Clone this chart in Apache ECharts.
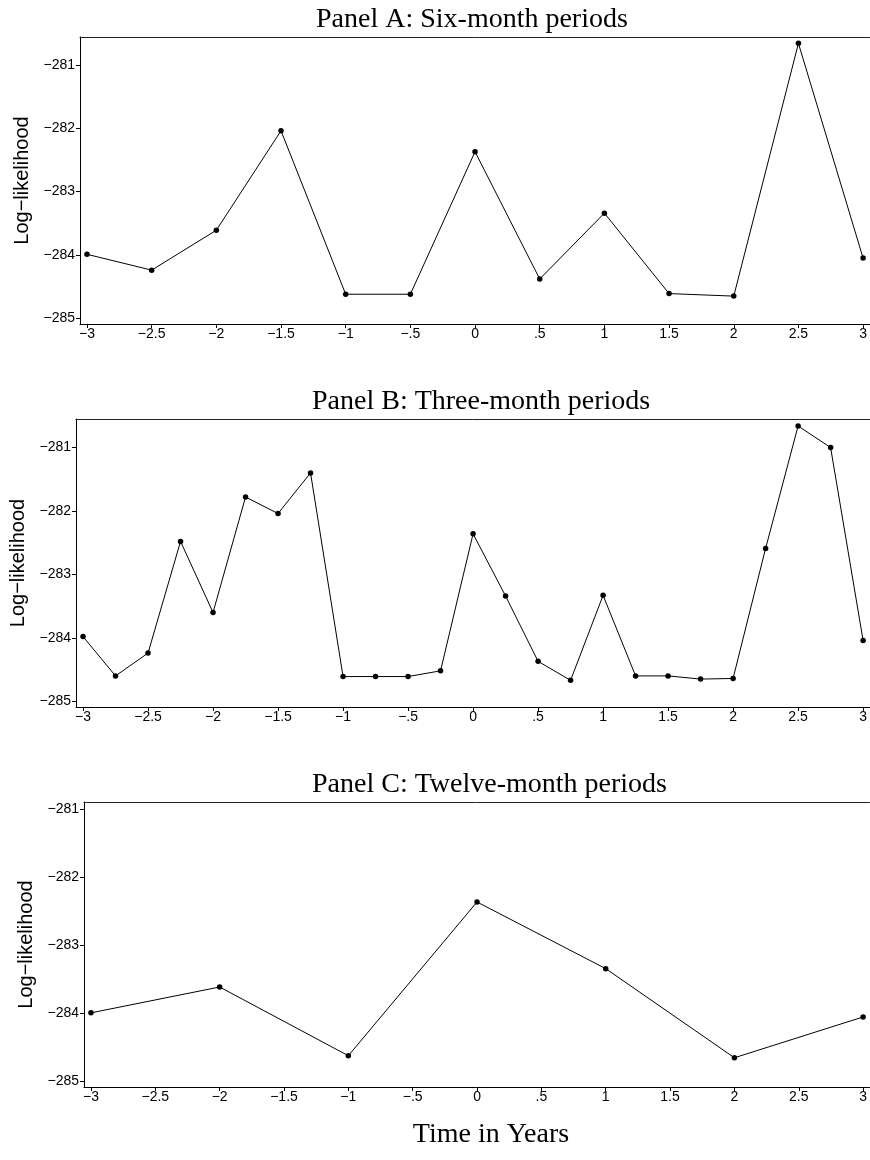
<!DOCTYPE html>
<html><head><meta charset="utf-8">
<script src="https://cdn.jsdelivr.net/npm/echarts@6/dist/echarts.min.js"></script>
<style>html,body{margin:0;padding:0;background:#fff}#c{width:870px;height:1160px}</style>
</head><body><div id="c"></div>
<script>
const panelTitles = ['Panel A: Six-month periods', 'Panel B: Three-month periods', 'Panel C: Twelve-month periods'];
const yAxisTitle = 'Log\u2212likelihood';
const xAxisTitle = 'Time in Years';

const xA = [-3, -2.5, -2, -1.5, -1, -0.5, 0, 0.5, 1, 1.5, 2, 2.5, 3];
const yA = [-283.99, -284.24, -283.61, -282.04, -284.62, -284.62, -282.37, -284.38, -283.34, -284.61, -284.65, -280.66, -284.05];

const xB = [-3, -2.75, -2.5, -2.25, -2, -1.75, -1.5, -1.25, -1, -0.75, -0.5, -0.25, 0, 0.25, 0.5, 0.75, 1, 1.25, 1.5, 1.75, 2, 2.25, 2.5, 2.75, 3];
const yB = [-283.98, -284.60, -284.24, -282.48, -283.60, -281.78, -282.04, -281.40, -284.61, -284.61, -284.61, -284.52, -282.36, -283.34, -284.37, -284.67, -283.33, -284.60, -284.60, -284.65, -284.64, -282.59, -280.66, -281.00, -284.04];

const xC = [-3, -2, -1, 0, 1, 2, 3];
const yC = [-284.00, -283.62, -284.63, -282.37, -283.35, -284.66, -284.06];

const xTicks = [-3, -2.5, -2, -1.5, -1, -0.5, 0, 0.5, 1, 1.5, 2, 2.5, 3];
const yTicks = [-285, -284, -283, -282, -281];

function fmtX(v) {
  if (v === 0) return '0';
  let s = String(Math.abs(v));
  if (s.startsWith('0.')) s = s.slice(1);
  return (v < 0 ? '\u2212' : '') + s;
}
function fmtY(v) { return (v < 0 ? '\u2212' : '') + Math.abs(v); }

const panels = [
  { xs: xA, ys: yA, grid: { left: 80, top: 37, right: 0, height: 287 }, ymax: -280.56, title: { left: 316, top: 6 } },
  { xs: xB, ys: yB, grid: { left: 76, top: 419, right: 0, height: 288 }, ymax: -280.55, title: { left: 312, top: 388 } },
  { xs: xC, ys: yC, grid: { left: 84, top: 802, right: 0, height: 285 }, ymax: -280.90, title: { left: 312, top: 771 } }
];
const YMIN = -285.09, XMIN = -3.054, XMAX = 3.05;

const sansLabel = { color: '#000', fontFamily: 'Liberation Sans', fontSize: 14 };
const lineStyle = { color: '#000', width: 1 };

const option = {
  animation: false,
  backgroundColor: '#fff',
  title: panels.map((p, i) => ({
    text: panelTitles[i], left: p.title.left, top: p.title.top, padding: 0,
    textStyle: { fontFamily: 'Liberation Serif', fontSize: 28, fontWeight: 'normal', color: '#000' }
  })).concat([{
    text: xAxisTitle, left: 491, top: 1121, padding: 0, textAlign: 'center',
    textStyle: { fontFamily: 'Liberation Serif', fontSize: 28, fontWeight: 'normal', color: '#000' }
  }]),
  grid: panels.map(p => p.grid),
  xAxis: panels.map((p, i) => ({
    type: 'value', gridIndex: i, position: 'bottom', min: XMIN, max: XMAX,
    axisLine: { show: true, onZero: false, lineStyle },
    axisTick: { show: true, length: 4, lineStyle, customValues: xTicks },
    axisLabel: { ...sansLabel, margin: 3, customValues: xTicks, formatter: fmtX },
    splitLine: { show: false }
  })).concat(panels.map((p, i) => ({
    type: 'value', gridIndex: i, position: 'top', min: XMIN, max: XMAX,
    axisLine: { show: true, onZero: false, lineStyle: { color: '#222', width: 1 } },
    axisTick: { show: false }, axisLabel: { show: false }, splitLine: { show: false }
  }))),
  yAxis: panels.map((p, i) => ({
    type: 'value', gridIndex: i, position: 'left', min: YMIN, max: p.ymax,
    name: yAxisTitle, nameLocation: 'middle', nameRotate: 90, nameGap: 48,
    nameTextStyle: { color: '#000', fontFamily: 'Liberation Sans', fontSize: 20 },
    axisLine: { show: true, onZero: false, lineStyle },
    axisTick: { show: true, length: 4, lineStyle, customValues: yTicks },
    axisLabel: { ...sansLabel, margin: 5, customValues: yTicks, formatter: fmtY },
    splitLine: { show: false }
  })),
  series: panels.map((p, i) => ({
    type: 'line', xAxisIndex: i, yAxisIndex: i,
    data: p.xs.map((x, k) => [x, p.ys[k]]),
    symbol: 'circle', symbolSize: 5.5, showSymbol: true,
    lineStyle, itemStyle: { color: '#000' }, z: 3
  }))
};

const chart = echarts.init(document.getElementById('c'), null, { renderer: 'canvas' });
chart.setOption(option);
</script>
</body></html>
